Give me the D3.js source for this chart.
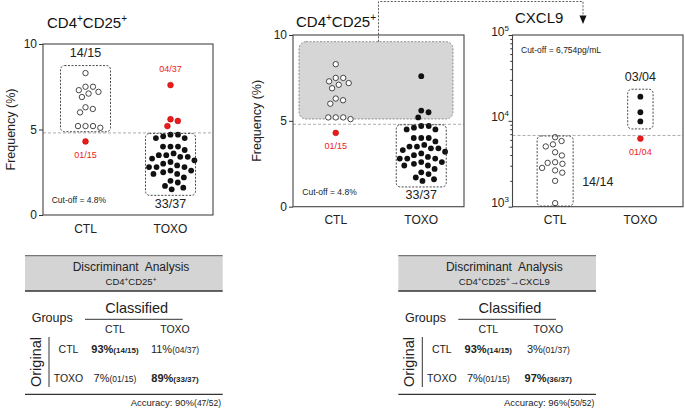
<!DOCTYPE html>
<html lang="en">
<head>
<meta charset="UTF-8">
<script src="https://cdn.jsdelivr.net/npm/d3@7"></script>
<title>CD4+CD25+ and CXCL9</title>
<style>
  * { margin: 0; padding: 0; box-sizing: border-box; }
  body { background: #fff; }
  svg { display: block; font-family: "Liberation Sans", Arial, sans-serif; }
</style>
</head>
<body>
<svg id="fig" width="685" height="409"></svg>
<script>
// ---- data ----
var groups = ['CTL', 'TOXO'];
var cd25Cutoff = 4.8;
var cd25Ctl = [8.3, 7.5, 7.5, 7.3, 7.2, 7.1, 6.9, 6.3, 6.2, 6.0, 5.2, 5.2, 5.1, 5.2, 4.3];
var cd25Toxo = [7.6, 5.6, 5.5, 5.2,
  4.7, 4.7, 4.6, 4.5, 4.5, 4.0, 4.0, 4.0, 3.8, 3.6, 3.5, 3.5, 3.4, 3.4, 3.3, 3.2,
  3.1, 3.0, 2.9, 2.8, 2.8, 2.8, 2.6, 2.6, 2.5, 2.4, 2.4, 2.2, 2.0, 1.9, 1.7, 1.6, 1.5];
var cxcl9Cutoff = 6754;
var cxcl9Ctl = [6450, 5820, 5320, 5030, 4310, 3950, 3300, 3240, 3160, 2830, 2650, 2490, 2000, 1100];
var cxcl9Toxo = [19100, 12600, 9850, 6210];
var freqTicks = [0, 5, 10];
var logTicks = [1e3, 1e4, 1e5];

// discriminant analysis: rows = original group, cols = classified group
var groupSizes = [15, 37];
var hitsA = [[14, 4], [1, 33]];
var hitsB = [[14, 1], [1, 36]];
var tableTitles = ['CD4^+CD25^+', 'CD4^+CD25^+\u2192CXCL9'];

var svg = d3.select('#fig');
var ink = '#222';
var red = '#ee1a1a';
var f2 = d3.format('02d');

// text with "^x" superscripts
function rich(t, str, supSize, rise) {
  var up = false;
  str.split(/(\^.)/).filter(Boolean).forEach(function (p) {
    if (p[0] === '^') {
      t.append('tspan').attr('font-size', supSize).attr('dy', up ? 0 : -rise).text(p[1]);
      up = true;
    } else {
      t.append('tspan').attr('dy', up ? rise : 0).text(p);
      up = false;
    }
  });
  return t;
}

// simple beeswarm around a column centre
function swarm(vals, y, cx, d) {
  var placed = [];
  vals.map(function (v) { return { v: v, y: y(v) }; })
    .sort(function (a, b) { return a.y - b.y; })
    .forEach(function (p) {
      var cands = [0];
      placed.forEach(function (q) {
        var dy = Math.abs(q.y - p.y);
        if (dy < d) {
          var dx = Math.sqrt(d * d - dy * dy);
          cands.push(q.x + dx, q.x - dx);
        }
      });
      cands.sort(function (a, b) { return Math.abs(a) - Math.abs(b); });
      for (var i = 0; i < cands.length; i++) {
        var c = cands[i];
        var ok = placed.every(function (q) {
          return (q.x - c) * (q.x - c) + (q.y - p.y) * (q.y - p.y) >= d * d - 0.01;
        });
        if (ok) { p.x = c; break; }
      }
      placed.push(p);
    });
  placed.forEach(function (p) { p.x += cx; });
  return placed;
}

function drawPanel(p) {
  var g = svg.append('g');
  var x = d3.scalePoint().domain(groups).range([p.x0, p.x1]).padding(0.5);
  var y = p.y;
  var cutY = y(p.cutoff);

  if (p.shade) {
    g.append('rect')
      .attr('x', p.x0 + 6).attr('y', p.y0 + 6.7)
      .attr('width', p.x1 - p.x0 - 17).attr('height', cutY - 5.3 - p.y0 - 6.7)
      .attr('rx', 7)
      .attr('fill', '#d6d6d6').attr('stroke', '#777')
      .attr('stroke-width', 0.8).attr('stroke-dasharray', '2,1.5');
  }

  // cut-off line
  g.append('line')
    .attr('x1', p.x0).attr('x2', p.x1).attr('y1', cutY).attr('y2', cutY)
    .attr('stroke', '#999').attr('stroke-width', 0.8).attr('stroke-dasharray', '3,2');

  // axes
  if (p.log) {
    var minor = [];
    [1e3, 1e4].forEach(function (b) { for (var k = 2; k < 10; k++) minor.push(b * k); });
    g.append('g').attr('transform', 'translate(' + p.x0 + ',0)')
      .call(d3.axisLeft(y).tickValues(minor).tickSize(2.2).tickFormat(''))
      .call(function (a) { a.select('.domain').remove(); a.selectAll('line').attr('stroke', '#333'); });
    var ax = g.append('g').attr('transform', 'translate(' + p.x0 + ',0)')
      .call(d3.axisLeft(y).tickValues(p.ticks).tickSize(4).tickPadding(-0.5).tickFormat(''));
    ax.select('.domain').remove();
    ax.selectAll('line').attr('stroke', '#333');
    ax.selectAll('.tick text').each(function (d) {
      var t = d3.select(this).attr('font-size', 12).attr('fill', ink).attr('font-family', null);
      rich(t, '10^' + Math.round(Math.log10(d)), 8, 5);
    });
  } else {
    var ay = g.append('g').attr('transform', 'translate(' + p.x0 + ',0)')
      .call(d3.axisLeft(y).tickValues(p.ticks).tickSize(4).tickPadding(2));
    ay.select('.domain').remove();
    ay.selectAll('line').attr('stroke', '#333');
    ay.selectAll('text').attr('font-size', 12).attr('fill', ink).attr('font-family', null);
  }

  // frame
  g.append('rect')
    .attr('x', p.x0).attr('y', p.y0)
    .attr('width', p.x1 - p.x0).attr('height', p.y1 - p.y0)
    .attr('fill', 'none').attr('stroke', '#444').attr('stroke-width', 1.1);

  // category labels
  groups.forEach(function (k) {
    g.append('text').attr('x', x(k)).attr('y', p.y1 + 17.5)
      .attr('text-anchor', 'middle').attr('font-size', 12).attr('fill', ink).text(k);
  });

  // y title
  if (p.ytitle) {
    g.append('text')
      .attr('transform', 'translate(' + p.ytitleX + ',' + (p.y0 + p.y1) / 2 + ') rotate(-90)')
      .attr('text-anchor', 'middle').attr('font-size', 12.5).attr('fill', ink).text(p.ytitle);
  }

  // title
  rich(g.append('text').attr('x', p.titleX).attr('y', p.titleY)
    .attr('font-size', 15).attr('fill', '#111'), p.title, 10, 6);

  // cut-off note
  g.append('text').attr('x', p.noteX).attr('y', p.noteY)
    .attr('font-size', 8.5).attr('fill', ink).text(p.note);

  // dots, boxes, counts
  var info = {};
  groups.forEach(function (k, gi) {
    var pts = swarm(p.data[gi], y, x(k), 7.5);
    var total = pts.length;
    var above = pts.filter(function (d) { return d.v >= p.cutoff; });
    var below = pts.filter(function (d) { return d.v < p.cutoff; });
    info[k] = { above: above, below: below, total: total };
    [['above', above], ['below', below]].forEach(function (s) {
      var st = p.styles[k][s[0]];
      g.selectAll(null).data(s[1]).enter().append('circle')
        .attr('cx', function (d) { return d.x; })
        .attr('cy', function (d) { return d.y; })
        .attr('r', st === 'open' ? 2.7 : 2.9)
        .attr('fill', st === 'open' ? '#fff' : st === 'red' ? red : '#111')
        .attr('stroke', st === 'open' ? '#333' : st === 'red' ? '#a00' : 'none')
        .attr('stroke-width', st === 'open' ? 0.9 : 0.5);
    });
  });

  var boxes = {};
  p.boxes.forEach(function (b) {
    var pts = info[b.group][b.side];
    var ys = d3.extent(pts, function (d) { return d.y; });
    var y0, y1;
    if (b.side === 'above') {
      y0 = ys[0] - 7.5;
      y1 = Math.min(ys[1] + 7.5, cutY - 1.2);
    } else {
      y0 = Math.max(ys[0] - 7, cutY + 0.5);
      y1 = Math.min(ys[1] + 6, p.y1 - 0.6);
    }
    var cx = x(b.group);
    boxes[b.group + b.side] = { x0: cx - b.hw, x1: cx + b.hw, y0: y0, y1: y1 };
    g.append('rect')
      .attr('x', cx - b.hw).attr('y', y0).attr('width', 2 * b.hw).attr('height', y1 - y0)
      .attr('rx', 4).attr('fill', 'none')
      .attr('stroke', '#333').attr('stroke-width', 0.9).attr('stroke-dasharray', '2,1.5');
  });

  p.labels.forEach(function (l) {
    var inf = info[l.group];
    var pts = inf[l.side];
    var txt = f2(pts.length) + '/' + f2(inf.total);
    var bx = boxes[l.group + l.side];
    var lx = x(l.group), ly, anchor = 'middle';
    if (l.at === 'boxTop') ly = bx.y0 - 8.5;
    if (l.at === 'boxBottom') ly = bx.y1 + 12.5;
    if (l.at === 'boxRight') { lx = bx.x1 + 9; ly = bx.y1 - 20; anchor = 'start'; }
    if (l.at === 'dotTop') ly = d3.min(pts, function (d) { return d.y; }) - 13.5;
    if (l.at === 'dotBottom') ly = d3.max(pts, function (d) { return d.y; }) + 16.5;
    g.append('text').attr('x', lx).attr('y', ly).attr('text-anchor', anchor)
      .attr('font-size', l.red ? 9 : 12.5).attr('fill', l.red ? red : ink).text(txt);
  });
}

drawPanel({
  x0: 43, x1: 213, y0: 44, y1: 215,
  y: d3.scaleLinear().domain([0, 10]).range([215, 44]),
  ticks: freqTicks, cutoff: cd25Cutoff,
  data: [cd25Ctl, cd25Toxo],
  styles: { CTL: { above: 'open', below: 'red' }, TOXO: { above: 'red', below: 'black' } },
  boxes: [{ group: 'CTL', side: 'above', hw: 25 }, { group: 'TOXO', side: 'below', hw: 25 }],
  labels: [
    { group: 'CTL', side: 'above', at: 'boxTop' },
    { group: 'CTL', side: 'below', at: 'dotBottom', red: true },
    { group: 'TOXO', side: 'above', at: 'dotTop', red: true },
    { group: 'TOXO', side: 'below', at: 'boxBottom' }
  ],
  title: 'CD4^+CD25^+', titleX: 47, titleY: 28,
  ytitle: 'Frequency (%)', ytitleX: 14.5,
  note: 'Cut-off = ' + cd25Cutoff + '%', noteX: 51.7, noteY: 203.3
});

drawPanel({
  x0: 293, x1: 464, y0: 35, y1: 206.7,
  y: d3.scaleLinear().domain([0, 10]).range([206.7, 35]),
  ticks: freqTicks, cutoff: cd25Cutoff, shade: true,
  data: [cd25Ctl, cd25Toxo],
  styles: { CTL: { above: 'open', below: 'red' }, TOXO: { above: 'black', below: 'black' } },
  boxes: [{ group: 'TOXO', side: 'below', hw: 25 }],
  labels: [
    { group: 'CTL', side: 'below', at: 'dotBottom', red: true },
    { group: 'TOXO', side: 'below', at: 'boxBottom' }
  ],
  title: 'CD4^+CD25^+', titleX: 296, titleY: 26.5,
  ytitle: 'Frequency (%)', ytitleX: 261,
  note: 'Cut-off = ' + cd25Cutoff + '%', noteX: 302.3, noteY: 195
});

drawPanel({
  x0: 512.5, x1: 683, y0: 35, y1: 206.7,
  y: d3.scaleLog().domain([1e3, 1e5]).range([206.7, 35]),
  log: true, ticks: logTicks, cutoff: cxcl9Cutoff,
  data: [cxcl9Ctl, cxcl9Toxo],
  styles: { CTL: { above: 'open', below: 'open' }, TOXO: { above: 'black', below: 'red' } },
  boxes: [{ group: 'CTL', side: 'below', hw: 18 }, { group: 'TOXO', side: 'above', hw: 12.7 }],
  labels: [
    { group: 'CTL', side: 'below', at: 'boxRight' },
    { group: 'TOXO', side: 'above', at: 'boxTop' },
    { group: 'TOXO', side: 'below', at: 'dotBottom', red: true }
  ],
  title: 'CXCL9', titleX: 515, titleY: 23,
  note: 'Cut-off = ' + d3.format(',')(cxcl9Cutoff) + 'pg/mL', noteX: 521, noteY: 53.3
});

// dashed connector from the shaded area to the CXCL9 panel
svg.append('path')
  .attr('d', 'M378.5,41.7V1.5H583V16')
  .attr('fill', 'none').attr('stroke', '#333').attr('stroke-width', 0.8).attr('stroke-dasharray', '2,1.5');
svg.append('path').attr('d', 'M579.5,15.5L586.5,15.5L583,24Z').attr('fill', '#111');

function drawTable(ox, subtitle, hits) {
  var g = svg.append('g').attr('transform', 'translate(' + ox + ',0)');
  var w = 197.7;
  var colX = d3.scalePoint().domain(groups).range([90, 150]);
  var rowY = d3.scalePoint().domain(groups).range([353.3, 381.7]);

  g.append('rect').attr('x', 0).attr('y', 255.7).attr('width', w).attr('height', 35.3).attr('fill', '#d4d4d4');
  g.append('line').attr('x1', 0).attr('x2', w).attr('y1', 255.7).attr('y2', 255.7).attr('stroke', '#777').attr('stroke-width', 1.2);
  g.append('line').attr('x1', 0).attr('x2', w).attr('y1', 291).attr('y2', 291).attr('stroke', '#333').attr('stroke-width', 1.4);
  g.append('line').attr('x1', 0).attr('x2', w).attr('y1', 394.3).attr('y2', 394.3).attr('stroke', '#333').attr('stroke-width', 1.2);

  g.append('text').attr('x', 106).attr('y', 270.5).attr('text-anchor', 'middle')
    .attr('font-size', 12).attr('fill', ink).attr('xml:space', 'preserve').text('Discriminant  Analysis');
  rich(g.append('text').attr('x', 106).attr('y', 285).attr('text-anchor', 'middle')
    .attr('font-size', 9.5).attr('fill', ink), subtitle, 6.5, 3.5);

  g.append('text').attr('x', 111.7).attr('y', 312.7).attr('text-anchor', 'middle')
    .attr('font-size', 14.5).attr('fill', ink).text('Classified');
  g.append('line').attr('x1', 60).attr('x2', 157.7).attr('y1', 319.3).attr('y2', 319.3).attr('stroke', '#333').attr('stroke-width', 1);
  g.append('text').attr('x', 6.7).attr('y', 322).attr('font-size', 12.5).attr('fill', ink).text('Groups');

  groups.forEach(function (k) {
    g.append('text').attr('x', colX(k)).attr('y', 333.3).attr('text-anchor', 'middle')
      .attr('font-size', 10.5).attr('fill', ink).text(k);
    g.append('text').attr('x', 43.5).attr('y', rowY(k)).attr('text-anchor', 'middle')
      .attr('font-size', 10.5).attr('fill', ink).text(k);
  });

  g.append('text').attr('transform', 'translate(15.5,362) rotate(-90)').attr('text-anchor', 'middle')
    .attr('font-size', 14.5).attr('fill', ink).text('Original');
  g.append('line').attr('x1', 24).attr('x2', 24).attr('y1', 337).attr('y2', 387).attr('stroke', '#333').attr('stroke-width', 1);

  hits.forEach(function (row, ri) {
    row.forEach(function (h, ci) {
      var n = groupSizes[ci];
      var bold = ri === ci;
      var t = g.append('text').attr('x', colX(groups[ci])).attr('y', rowY(groups[ri]))
        .attr('text-anchor', 'middle').attr('fill', ink).attr('font-weight', bold ? 'bold' : 'normal');
      t.append('tspan').attr('font-size', 11).text(Math.round(100 * h / n) + '%');
      t.append('tspan').attr('font-size', bold ? 8 : 8.5).text('(' + f2(h) + '/' + f2(n) + ')');
    });
  });

  var correct = hits[0][0] + hits[1][1];
  var total = d3.sum(groupSizes);
  var acc = g.append('text').attr('x', 196).attr('y', 405.5).attr('text-anchor', 'end').attr('fill', ink);
  acc.append('tspan').attr('font-size', 9.5).text('Accuracy: ' + Math.round(100 * correct / total) + '%');
  acc.append('tspan').attr('font-size', 8.5).text('(' + correct + '/' + total + ')');
}

drawTable(25, tableTitles[0], hitsA);
drawTable(398.3, tableTitles[1], hitsB);
</script>
</body>
</html>
